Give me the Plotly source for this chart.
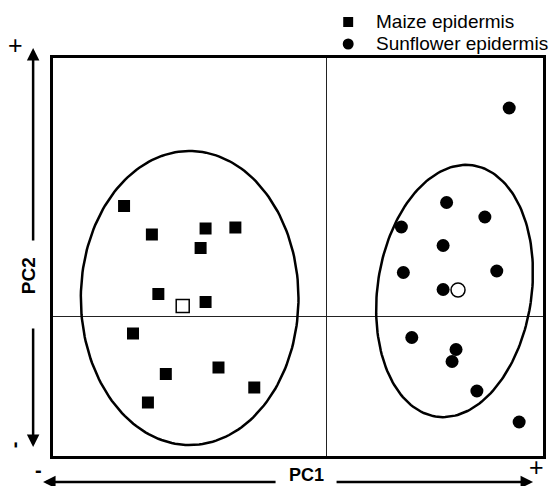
import numpy as np
import plotly.graph_objects as go

# ---- data (PCA scores, arbitrary units) ----
maize_pc1 = [-4.07, -3.51, -2.43, -1.83, -2.53, -3.38, -2.43, -3.89, -2.17, -3.23, -1.45, -3.59]
maize_pc2 = [2.20, 1.63, 1.75, 1.77, 1.36, 0.44, 0.28, -0.35, -1.03, -1.16, -1.43, -1.73]
maize_centroid = (-2.89, 0.20)

sun_pc1 = [3.68, 2.42, 3.19, 1.51, 2.35, 1.55, 3.43, 2.35, 1.72, 2.61, 2.53, 3.03, 3.88]
sun_pc2 = [4.16, 2.27, 1.98, 1.78, 1.41, 0.87, 0.90, 0.53, -0.43, -0.67, -0.91, -1.50, -2.12]
sun_centroid = (2.65, 0.52)

# confidence ellipses: centre, semi-axis (major, vertical-ish), semi-axis (minor), tilt (deg, clockwise from vertical)
maize_ellipse = dict(cx=-2.75, cy=0.36, a=2.94, b=2.19, tilt=0.0)
sun_ellipse = dict(cx=2.58, cy=0.50, a=2.54, b=1.55, tilt=8.4)

legend_labels = ["Maize epidermis", "Sunflower epidermis"]

FONT = "Liberation Sans, Arial, sans-serif"
W, H = 549, 486
ML, MR, MT, MB = 53, 3, 58, 30
PW, PH = W - ML - MR, H - MT - MB


def px(x):
    return (x - ML) / PW


def py(y):
    return (H - MB - y) / PH


def ellipse_xy(e, n=200):
    t = np.linspace(0, 2 * np.pi, n)
    th = np.deg2rad(e["tilt"])
    u = e["b"] * np.cos(t)
    v = e["a"] * np.sin(t)
    x = e["cx"] + u * np.cos(th) + v * np.sin(th)
    y = e["cy"] - u * np.sin(th) + v * np.cos(th)
    return x, y


fig = go.Figure()

for e in (maize_ellipse, sun_ellipse):
    ex, ey = ellipse_xy(e)
    fig.add_trace(go.Scatter(x=ex, y=ey, mode="lines", line=dict(color="black", width=2.5),
                             showlegend=False, hoverinfo="skip"))

fig.add_trace(go.Scatter(x=maize_pc1, y=maize_pc2, mode="markers", name=legend_labels[0], showlegend=False,
                         marker=dict(symbol="square", size=12, color="black")))
fig.add_trace(go.Scatter(x=sun_pc1, y=sun_pc2, mode="markers", name=legend_labels[1], showlegend=False,
                         marker=dict(symbol="circle", size=13, color="black")))
fig.add_trace(go.Scatter(x=[maize_centroid[0]], y=[maize_centroid[1]], mode="markers", showlegend=False,
                         marker=dict(symbol="square", size=13, color="white", line=dict(color="black", width=1.5))))
fig.add_trace(go.Scatter(x=[sun_centroid[0]], y=[sun_centroid[1]], mode="markers", showlegend=False,
                         marker=dict(symbol="circle", size=14, color="white", line=dict(color="black", width=1.5))))

axis_common = dict(showgrid=False, showticklabels=False, ticks="", zeroline=True,
                   zerolinecolor="#222", zerolinewidth=1, showline=True, mirror=True,
                   linecolor="black", linewidth=3, fixedrange=True)

fig.update_layout(
    width=W, height=H,
    margin=dict(l=ML, r=MR, t=MT, b=MB),
    paper_bgcolor="white", plot_bgcolor="white",
    font=dict(family=FONT, color="black"),
    xaxis=dict(range=[-5.5, 4.36], **axis_common),
    yaxis=dict(range=[-2.8, 5.16], **axis_common),
    showlegend=False,
)

# custom legend (symbols as shapes, labels as text)
shapes = []
shapes.append(dict(type="rect", xref="paper", yref="paper", x0=px(345), x1=px(355), y0=py(27), y1=py(17),
                   fillcolor="black", line=dict(width=0)))
shapes.append(dict(type="circle", xref="paper", yref="paper", x0=px(344.5), x1=px(355.5), y0=py(49.5), y1=py(38.5),
                   fillcolor="black", line=dict(width=0)))
fig.update_layout(shapes=shapes)

ann = []
leg = dict(showarrow=False, xref="paper", yref="paper", xanchor="left", yanchor="middle",
           font=dict(size=19, family=FONT))
ann.append(dict(x=px(376), y=py(21), text=legend_labels[0], **leg))
ann.append(dict(x=px(376), y=py(43), text=legend_labels[1], **leg))

arrow = dict(showarrow=True, arrowhead=2, arrowsize=1, arrowwidth=2.5, arrowcolor="black",
             text="", xref="paper", yref="paper", axref="pixel", ayref="pixel")
# PC2 arrows (vertical, left)
ann.append(dict(x=px(33), y=py(48), ax=0, ay=242 - 48, **arrow))
ann.append(dict(x=px(33), y=py(447), ax=0, ay=-(447 - 327), **arrow))
# PC1 arrows (horizontal, bottom)
ann.append(dict(x=px(43), y=py(482), ax=277 - 43, ay=0, **arrow))
ann.append(dict(x=px(536), y=py(482), ax=-(536 - 338), ay=0, **arrow))

lab = dict(showarrow=False, xref="paper", yref="paper", xanchor="center", yanchor="middle")
ann.append(dict(x=px(28), y=py(276), text="<b>PC2</b>", textangle=-90, font=dict(size=19, family=FONT), **lab))
ann.append(dict(x=px(308), y=py(475), text="<b>PC1</b>", font=dict(size=18, family=FONT), **lab))
ann.append(dict(x=px(15), y=py(45), text="+", font=dict(size=25, family=FONT), **lab))
ann.append(dict(x=px(14), y=py(445), text="<b>-</b>", textangle=-90, font=dict(size=20, family=FONT), **lab))
ann.append(dict(x=px(38), y=py(470), text="<b>-</b>", font=dict(size=20, family=FONT), **lab))
ann.append(dict(x=px(539), y=py(467), text="+", font=dict(size=25, family=FONT), **lab))
fig.update_layout(annotations=ann)

fig.write_html("out.html")
